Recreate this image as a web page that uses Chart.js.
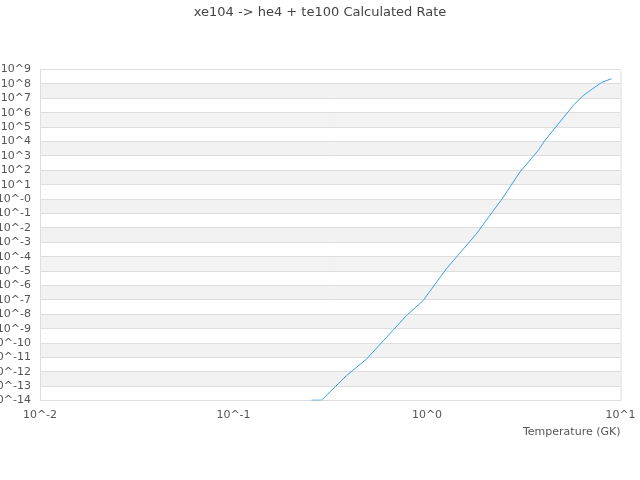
<!DOCTYPE html>
<html>
<head>
<meta charset="utf-8">
<script src="https://cdn.jsdelivr.net/npm/chart.js@4"></script>
<style>
  body { margin: 0; background: #fff; }
</style>
</head>
<body>
<canvas id="rate" width="640" height="480"></canvas>
<script>
// temperature (GK) and calculated rate
const temperatures = [0.253, 0.285, 0.327, 0.384, 0.488, 0.618, 0.783, 0.955, 1.26, 1.80, 2.48, 3.02, 3.76, 4.07, 5.70, 6.42, 8.0, 9.0];
const rates = [1.07e-14, 1.07e-14, 6.5e-14, 5.5e-13, 7.9e-12, 2.5e-10, 8.1e-9, 8.9e-8, 1.45e-5, 3.9e-3, 1.38, 76, 2450, 1.2e4, 3.2e6, 1.6e7, 1.3e8, 2.35e8];

const xTickExps = [-2, -1, 0, 1];
const xTickLabels = ['10^-2', '10^-1', '10^0', '10^1'];
const yTickExps = [-14, -13, -12, -11, -10, -9, -8, -7, -6, -5, -4, -3, -2, -1, 0, 1, 2, 3, 4, 5, 6, 7, 8, 9];
const yTickLabels = ['10^-14', '10^-13', '10^-12', '10^-11', '10^-10', '10^-9', '10^-8', '10^-7', '10^-6', '10^-5', '10^-4', '10^-3', '10^-2', '10^-1', '10^-0', '10^1', '10^2', '10^3', '10^4', '10^5', '10^6', '10^7', '10^8', '10^9'];

Chart.defaults.font.family = "'DejaVu Sans'";
Chart.defaults.font.size = 11;
Chart.defaults.color = '#555';

const gridColor = '#dddddd';

// grey bands between every other pair of decades, plus the right frame line
const bands = {
    id: 'bands',
    beforeDraw(chart) {
        const {ctx, chartArea, scales} = chart;
        const y = scales.y;
        ctx.save();
        ctx.fillStyle = '#f2f2f2';
        for (const e of yTickExps) {
            if (e % 2 === 0 && e > -14) {
                const top = y.getPixelForValue(Math.pow(10, e));
                const bottom = y.getPixelForValue(Math.pow(10, e - 1));
                ctx.fillRect(chartArea.left, top, chartArea.right - chartArea.left, bottom - top);
            }
        }
        ctx.strokeStyle = gridColor;
        ctx.lineWidth = 1;
        ctx.beginPath();
        ctx.moveTo(chartArea.right + 0.5, chartArea.top);
        ctx.lineTo(chartArea.right + 0.5, chartArea.bottom);
        ctx.stroke();
        ctx.restore();
    }
};

const points = temperatures.map((t, i) => ({x: t, y: rates[i]}));

new Chart(document.getElementById('rate'), {
    type: 'line',
    data: {
        datasets: [{
            label: 'rate',
            data: points,
            borderColor: 'rgb(54, 162, 235)',
            borderWidth: 1,
            pointRadius: 0,
            fill: false,
            tension: 0
        }]
    },
    options: {
        responsive: false,
        animation: false,
        layout: {padding: {top: 0, right: 0, bottom: 41, left: 0}},
        plugins: {
            legend: {display: false},
            tooltip: {enabled: false},
            title: {
                display: true,
                text: 'xe104 -> he4 + te100 Calculated Rate',
                color: '#444',
                font: {size: 13, weight: 'normal'},
                padding: {top: 5, bottom: 49}
            }
        },
        scales: {
            x: {
                type: 'logarithmic',
                min: 0.01,
                max: 10,
                afterBuildTicks: s => { s.ticks = xTickExps.map(e => ({value: Math.pow(10, e)})); },
                afterFit: s => { s.paddingRight = 19.5; },
                ticks: {
                    padding: 8,
                    autoSkip: false,
                    maxRotation: 0,
                    callback: (v, i) => xTickLabels[i]
                },
                grid: {display: false, drawTicks: false},
                border: {display: true, color: gridColor},
                title: {
                    display: true,
                    text: 'Temperature (GK)',
                    align: 'end',
                    padding: {top: -4, bottom: 0}
                }
            },
            y: {
                type: 'logarithmic',
                min: 1e-14,
                max: 1e9,
                afterBuildTicks: s => { s.ticks = yTickExps.map(e => ({value: Math.pow(10, e)})); },
                afterFit: s => { s.width = 40; },
                ticks: {
                    padding: 9,
                    autoSkip: false,
                    callback: (v, i) => yTickLabels[i]
                },
                grid: {color: gridColor, drawTicks: false},
                border: {display: true, color: gridColor}
            }
        }
    },
    plugins: [bands]
});
</script>
</body>
</html>
